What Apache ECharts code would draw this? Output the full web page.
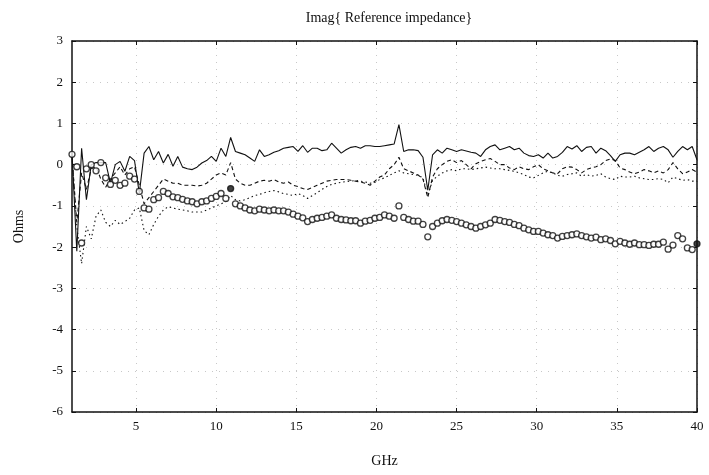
<!DOCTYPE html>
<html>
<head>
<meta charset="utf-8">
<script src="https://cdn.jsdelivr.net/npm/echarts@6/dist/echarts.min.js"></script>
<style>
  html, body { margin: 0; padding: 0; background: #fff; }
  #chart { width: 709px; height: 475px; }
</style>
</head>
<body>
<div id="chart"></div>
<script>
  // frequency grid (GHz)
  const freq = [
    1.0, 1.3, 1.6, 1.9, 2.2, 2.5, 2.8, 3.1, 3.4, 3.7, 4.0, 4.3, 4.6, 4.9, 5.2, 5.5, 5.8, 6.1, 6.4, 6.7,
    7.0, 7.3, 7.6, 7.9, 8.2, 8.5, 8.8, 9.1, 9.4, 9.7, 10.0, 10.3, 10.6, 10.9, 11.2, 11.5, 11.8, 12.1, 12.4, 12.7,
    13.0, 13.3, 13.6, 13.9, 14.2, 14.5, 14.8, 15.1, 15.4, 15.7, 16.0, 16.3, 16.6, 16.9, 17.2, 17.5, 17.8, 18.1, 18.4, 18.7,
    19.0, 19.3, 19.6, 19.9, 20.2, 20.5, 20.8, 21.1, 21.4, 21.7, 22.0, 22.3, 22.6, 22.9, 23.2, 23.5, 23.8, 24.1, 24.4, 24.7,
    25.0, 25.3, 25.6, 25.9, 26.2, 26.5, 26.8, 27.1, 27.4, 27.7, 28.0, 28.3, 28.6, 28.9, 29.2, 29.5, 29.8, 30.1, 30.4, 30.7,
    31.0, 31.3, 31.6, 31.9, 32.2, 32.5, 32.8, 33.1, 33.4, 33.7, 34.0, 34.3, 34.6, 34.9, 35.2, 35.5, 35.8, 36.1, 36.4, 36.7,
    37.0, 37.3, 37.6, 37.9, 38.2, 38.5, 38.8, 39.1, 39.4, 39.7, 40.0
  ]

  // solid line
  const solidLine = [
    0.28, -2.1, 0.4, -0.85, 0.0, 0.05, 0.05, 0.05, -0.45, 0.0, 0.08, -0.16, 0.2, 0.1, -0.7, 0.28, 0.44, 0.12, 0.32, 0.04,
    0.25, -0.04, 0.2, -0.06, -0.1, -0.12, -0.06, 0.04, 0.1, 0.2, 0.08, 0.4, 0.2, 0.66, 0.32, 0.28, 0.24, 0.16, 0.08, 0.36,
    0.2, 0.24, 0.3, 0.34, 0.4, 0.42, 0.44, 0.32, 0.46, 0.3, 0.4, 0.4, 0.34, 0.36, 0.52, 0.4, 0.28, 0.36, 0.42, 0.44,
    0.4, 0.46, 0.46, 0.44, 0.44, 0.46, 0.48, 0.5, 0.97, 0.32, 0.36, 0.36, 0.34, 0.18, -0.62, 0.24, 0.36, 0.28, 0.4, 0.36,
    0.32, 0.36, 0.33, 0.3, 0.28, 0.2, 0.36, 0.44, 0.48, 0.36, 0.4, 0.44, 0.36, 0.4, 0.28, 0.22, 0.2, 0.24, 0.16, 0.28,
    0.16, 0.2, 0.3, 0.44, 0.38, 0.46, 0.32, 0.42, 0.44, 0.28, 0.4, 0.34, 0.22, 0.08, 0.24, 0.28, 0.28, 0.24, 0.3, 0.36,
    0.44, 0.32, 0.4, 0.44, 0.36, 0.18, 0.32, 0.44, 0.36, 0.44, 0.12
  ]

  // dashed line
  const dashedLine = [
    0.2, -1.4, -0.2, -0.6, -0.1, -0.05, -0.35, -0.55, -0.35, -0.2, -0.05, -0.25, -0.1, -0.05, -0.5, -0.95, -0.8, -0.65, -0.5, -0.35,
    -0.4, -0.45, -0.45, -0.5, -0.5, -0.5, -0.52, -0.5, -0.45, -0.35, -0.25, -0.2, -0.25, 0.05, -0.35, -0.45, -0.5, -0.5, -0.45, -0.4,
    -0.38, -0.4, -0.36, -0.42, -0.45, -0.42, -0.5, -0.53, -0.58, -0.6, -0.55, -0.5, -0.45, -0.4, -0.38, -0.36, -0.36, -0.36, -0.38, -0.4,
    -0.42, -0.45, -0.5, -0.4, -0.3, -0.25, -0.1, 0.0, 0.18, -0.1, -0.15, -0.2, -0.25, -0.35, -0.8, -0.3, -0.1, 0.0, 0.08, 0.12,
    0.05, 0.1, 0.0, -0.1, 0.02, 0.08, 0.12, 0.15, 0.08, 0.0, 0.0, -0.08, -0.12, -0.05, -0.1, -0.12, -0.05, 0.0, -0.1, -0.15,
    -0.2, -0.22, -0.1, -0.05, -0.06, -0.12, -0.2, -0.12, -0.08, -0.05, 0.0, 0.1, 0.14, 0.1, -0.08, -0.12, -0.18, -0.22, -0.18, -0.12,
    -0.15, -0.2, -0.15, -0.2, -0.12, 0.05, -0.1, -0.22, -0.18, -0.12, -0.18
  ]

  // dotted line
  const dottedLine = [
    0.2, -1.5, -2.4, -1.5, -1.8, -1.25, -1.1, -1.4, -1.5, -1.35, -1.45, -1.38, -1.3, -1.1, -1.05, -1.6, -1.7, -1.45, -1.25, -1.1,
    -1.02, -1.05, -1.08, -1.1, -1.12, -1.15, -1.15, -1.15, -1.1, -1.05, -1.0, -0.95, -0.9, -0.75, -0.85, -0.88, -0.85, -0.8, -0.75, -0.72,
    -0.68, -0.65, -0.63, -0.66, -0.7, -0.72, -0.75, -0.7, -0.75, -0.82, -0.75, -0.68, -0.6, -0.53, -0.48, -0.45, -0.43, -0.41, -0.4, -0.38,
    -0.4, -0.42, -0.45, -0.43, -0.36, -0.32, -0.26, -0.2, -0.15, -0.2, -0.22, -0.24, -0.26, -0.32, -0.75, -0.38, -0.28, -0.2, -0.15, -0.12,
    -0.15, -0.1, -0.1, -0.12, -0.1, -0.08, -0.06, -0.08, -0.1, -0.1, -0.12, -0.14, -0.16, -0.2, -0.24, -0.3, -0.32, -0.26, -0.2, -0.16,
    -0.2, -0.26, -0.28, -0.24, -0.22, -0.2, -0.28, -0.24, -0.28, -0.26, -0.22, -0.3, -0.34, -0.36, -0.28, -0.3, -0.3, -0.28, -0.32, -0.34,
    -0.36, -0.36, -0.34, -0.36, -0.44, -0.3, -0.34, -0.38, -0.36, -0.4, -0.4
  ]

  // circle markers
  const circlePoints = [
    0.25, -0.05, -1.9, -0.1, 0.0, -0.15, 0.05, -0.32, -0.48, -0.38, -0.5, -0.45, -0.28, -0.35, -0.65, -1.05, -1.08, -0.85, -0.8, -0.65,
    -0.7, -0.78, -0.8, -0.84, -0.88, -0.9, -0.95, -0.9, -0.88, -0.82, -0.77, -0.7, -0.82, -0.58, -0.95, -1.0, -1.05, -1.1, -1.12, -1.08,
    -1.1, -1.12, -1.1, -1.12, -1.12, -1.15, -1.2, -1.25, -1.29, -1.38, -1.33, -1.3, -1.28, -1.25, -1.22, -1.3, -1.33, -1.34, -1.36, -1.36,
    -1.42, -1.37, -1.35, -1.3, -1.28, -1.22, -1.25, -1.3, -1.0, -1.28, -1.33, -1.37, -1.37, -1.45, -1.75, -1.5, -1.42, -1.36, -1.33, -1.35,
    -1.38, -1.42, -1.46, -1.5, -1.54, -1.5, -1.46, -1.42, -1.33, -1.35, -1.38, -1.4, -1.45, -1.48, -1.54, -1.58, -1.62, -1.62, -1.66, -1.7,
    -1.72, -1.78, -1.74, -1.72, -1.7, -1.68, -1.72, -1.75, -1.78, -1.76, -1.82, -1.8, -1.84, -1.92, -1.86, -1.9, -1.93, -1.9, -1.94, -1.94,
    -1.96, -1.93, -1.93, -1.88, -2.05, -1.95, -1.72, -1.8, -2.02, -2.06, -1.92
  ]
  const filledCircleAt = [10.9, 40.0]

  const xTicks = [5, 10, 15, 20, 25, 30, 35, 40]

  const font = 'Liberation Serif'
  const chart = echarts.init(document.getElementById('chart'))

  const pairs = (vals) => freq.map((f, i) => [f, vals[i]])

  const option = {
    backgroundColor: '#fff',
    animation: false,
    title: {
      text: 'Imag{ Reference impedance}',
      left: 384,
      top: 6,
      textAlign: 'center',
      textStyle: { fontFamily: font, fontSize: 14, fontWeight: 'normal', color: '#111' }
    },
    grid: { left: 72, right: 12, top: 41, bottom: 63 },
    xAxis: [
      {
        type: 'value',
        min: 1,
        max: 40,
        name: 'GHz',
        nameLocation: 'middle',
        nameGap: 42,
        nameTextStyle: { fontFamily: font, fontSize: 14, color: '#111' },
        axisLine: { onZero: false, lineStyle: { color: '#111', width: 1.5 } },
        axisTick: { inside: true, length: 4, customValues: xTicks, lineStyle: { color: '#111' } },
        axisLabel: { customValues: xTicks, fontFamily: font, fontSize: 13, color: '#111', margin: 8 },
        splitLine: { show: true, lineStyle: { color: '#c8c8c8', type: [1, 6], width: 1 } }
      },
      {
        type: 'value',
        position: 'top',
        min: 1,
        max: 40,
        axisLine: { onZero: false, lineStyle: { color: '#111', width: 1.5 } },
        axisTick: { inside: true, length: 4, customValues: xTicks, lineStyle: { color: '#111' } },
        axisLabel: { show: false },
        splitLine: { show: false }
      }
    ],
    yAxis: [
      {
        type: 'value',
        min: -6,
        max: 3,
        interval: 1,
        name: 'Ohms',
        nameLocation: 'middle',
        nameGap: 46,
        nameTextStyle: { fontFamily: font, fontSize: 14, color: '#111' },
        axisLine: { show: true, onZero: false, lineStyle: { color: '#111', width: 1.5 } },
        axisTick: { show: true, inside: true, length: 4, lineStyle: { color: '#111' } },
        axisLabel: { fontFamily: font, fontSize: 13, color: '#111', margin: 9 },
        splitLine: { show: true, lineStyle: { color: '#c8c8c8', type: [1, 6], width: 1 } }
      },
      {
        type: 'value',
        position: 'right',
        min: -6,
        max: 3,
        interval: 1,
        axisLine: { show: true, onZero: false, lineStyle: { color: '#111', width: 1.5 } },
        axisTick: { show: true, inside: true, length: 4, lineStyle: { color: '#111' } },
        axisLabel: { show: false },
        splitLine: { show: false }
      }
    ],
    series: [
      {
        type: 'line',
        data: pairs(solidLine),
        showSymbol: false,
        lineStyle: { color: '#111', width: 1.1 }
      },
      {
        type: 'line',
        data: pairs(dashedLine),
        showSymbol: false,
        lineStyle: { color: '#111', width: 1.1, type: [4, 3] }
      },
      {
        type: 'line',
        data: pairs(dottedLine),
        showSymbol: false,
        lineStyle: { color: '#111', width: 1.1, type: [1.5, 3] }
      },
      {
        type: 'scatter',
        data: freq.map((f, i) => {
          const filled = filledCircleAt.includes(f)
          return {
            value: [f, circlePoints[i]],
            itemStyle: filled ? { color: '#111' } : undefined
          }
        }),
        symbol: 'circle',
        symbolSize: 6,
        itemStyle: { color: '#fff', borderColor: '#111', borderWidth: 1.3 },
        z: 3
      }
    ]
  }

  chart.setOption(option)
</script>
</body>
</html>
